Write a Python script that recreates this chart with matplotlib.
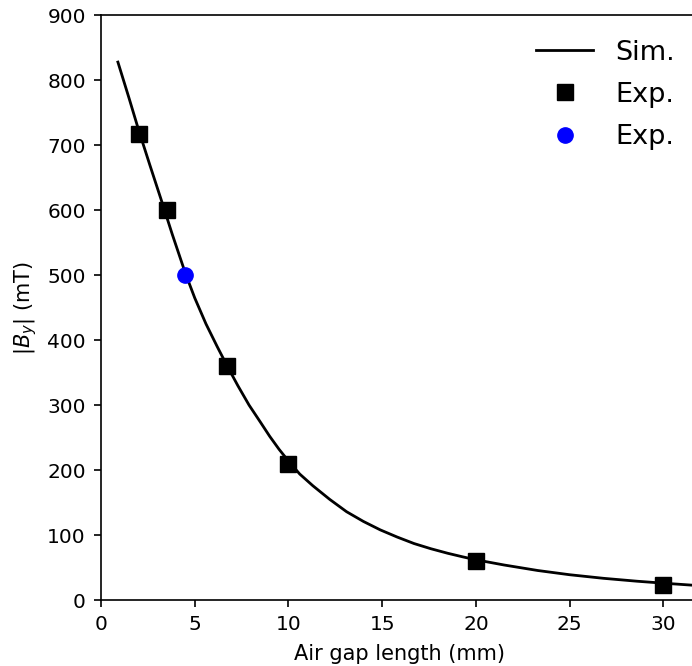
import numpy as np
import matplotlib.pyplot as plt

# simulated curve
sim_gap = [0.9, 1.5, 2.0, 2.6, 3.2, 3.8, 4.5, 5.0, 5.6, 6.2, 6.7, 7.3, 7.9, 8.5, 9.0, 9.5,
           10.0, 10.6, 11.3, 12.2, 13.1, 14.0, 14.9, 15.8, 16.7, 17.6, 18.5, 19.3, 20.0,
           21.5, 23.3, 25.0, 26.8, 28.6, 30.0, 31.5, 33.0]
sim_by = [828, 772, 724, 670, 617, 563, 503, 465, 425, 390, 362, 330, 300, 274, 252, 232,
          214, 194, 176, 155, 136, 121, 108, 97, 87, 79, 72, 66.5, 62,
          54, 45.5, 39, 33.5, 29, 26, 23, 21]

# experiments
exp_gap = [2.0, 3.5, 6.7, 10.0, 20.0, 30.0]
exp_by = [718, 600, 360, 210, 60, 23]
exp2_gap = [4.5]
exp2_by = [500]

fig = plt.figure(figsize=(6.92, 6.66), dpi=100)
ax = fig.add_axes([0.146, 0.099, 0.864, 0.878])

ax.plot(sim_gap, sim_by, color='black', linewidth=2.0, label='Sim.')
ax.plot(exp_gap, exp_by, linestyle='none', marker='s', markersize=11, color='black', label='Exp.')
ax.plot(exp2_gap, exp2_by, linestyle='none', marker='o', markersize=11, color='blue', label='Exp.')

ax.set_xlim(0, 31.9)
ax.set_ylim(0, 900)
ax.set_xticks([0, 5, 10, 15, 20, 25, 30])
ax.set_yticks(np.arange(0, 901, 100))
ax.tick_params(labelsize=14.5, width=1.2, length=5, pad=6)
for s in ax.spines.values():
    s.set_linewidth(1.2)

ax.set_xlabel('Air gap length (mm)', fontsize=15, labelpad=7)
ax.set_ylabel(r'$|B_y|$ (mT)', fontsize=15, labelpad=6)

ax.legend(loc='upper right', frameon=False, fontsize=19.5, labelspacing=0.6, handlelength=2.1)

fig.savefig('out.png', dpi=100)
